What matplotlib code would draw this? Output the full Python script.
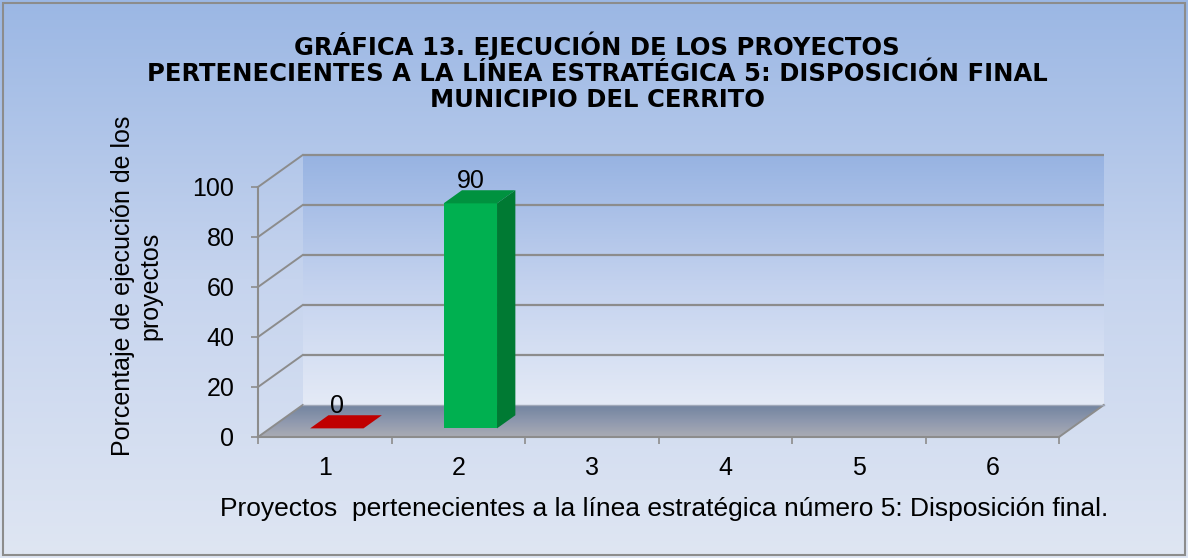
import numpy as np
import matplotlib
matplotlib.use("Agg")
import matplotlib.pyplot as plt
from matplotlib.patches import Polygon, Rectangle
from matplotlib.colors import LinearSegmentedColormap

plt.rcParams['font.family'] = ['Liberation Sans', 'DejaVu Sans']

# ---- data ----
categories = [1, 2, 3, 4, 5, 6]
values = [0, 90, None, None, None, None]
bar_front = {1: "#c00000", 2: "#00b050"}
bar_top = {1: "#c00000", 2: "#00923f"}
bar_side = {1: "#9a0000", 2: "#007a33"}
yticks = [0, 20, 40, 60, 80, 100]
title = ("GRÁFICA 13. EJECUCIÓN DE LOS PROYECTOS\n"
         "PERTENECIENTES A LA LÍNEA ESTRATÉGICA 5: DISPOSICIÓN FINAL\n"
         "MUNICIPIO DEL CERRITO")
xlabel = "Proyectos  pertenecientes a la línea estratégica número 5: Disposición final."
ylabel = "Porcentaje de ejecución de los\nproyectos"

W, H = 1188, 558
fig = plt.figure(figsize=(W / 100, H / 100), dpi=100)

# background gradient
bg = fig.add_axes([0, 0, 1, 1])
bg.set_xlim(0, 1); bg.set_ylim(0, 1); bg.axis('off')
bg_cmap = LinearSegmentedColormap.from_list("bg", ["#dfe6f3", "#c6d4ee", "#9bb7e4"])
grad = np.linspace(0, 1, 256).reshape(-1, 1)
bg.imshow(grad, extent=[0, 1, 0, 1], origin='lower', aspect='auto', cmap=bg_cmap, zorder=0)
bg.add_patch(Rectangle((3 / W, 3 / H), 1 - 6 / W, 1 - 6 / H, fill=False,
                       edgecolor="#8c8c8c", lw=1.5, zorder=1))

# main axes (front plane)
x0, x1 = 258, 1059
y0, y1 = 437, 187
ax = fig.add_axes([x0 / W, (H - y0) / H, (x1 - x0) / W, (y0 - y1) / H])
ax.set_xlim(0.5, 6.5)
ax.set_ylim(0, 100)
ax.patch.set_visible(False)

DX = 0.335   # depth offset in category units
DY = 12.8    # depth offset in value units
grid_c = "#8c8c8c"

# back wall
wall_cmap = LinearSegmentedColormap.from_list("wall", ["#e4eaf6", "#c2d1ee", "#97b3e2"])
ax.imshow(grad, extent=[0.5 + DX, 6.5 + DX, DY, 100 + DY], origin='lower',
          aspect='auto', cmap=wall_cmap, zorder=1, clip_on=False)
# floor
floor_poly = Polygon([(0.5, 0), (6.5, 0), (6.5 + DX, DY), (0.5 + DX, DY)], closed=True,
                     facecolor='none', edgecolor='none', transform=ax.transData)
ax.add_patch(floor_poly)
floor_cmap = LinearSegmentedColormap.from_list("floor", ["#aaacb4", "#8e98ae", "#72849f"])
fim = ax.imshow(grad, extent=[0.5, 6.5 + DX, 0, DY], origin='lower', aspect='auto',
                cmap=floor_cmap, zorder=2)
fim.set_clip_box(fig.bbox)
fim.set_clip_path(floor_poly)
ax.set_xlim(0.5, 6.5); ax.set_ylim(0, 100)

# gridlines: back wall and side wall
for v in yticks:
    if v > 0:
        ax.plot([0.5 + DX, 6.5 + DX], [v + DY, v + DY], color=grid_c, lw=1.6,
                zorder=3, clip_on=False, solid_capstyle='butt')
    ax.plot([0.5, 0.5 + DX], [v, v + DY], color=grid_c, lw=1.4, zorder=3, clip_on=False)
# floor right edge
ax.plot([6.5, 6.5 + DX], [0, DY], color=grid_c, lw=1.4, zorder=3, clip_on=False)
ax.plot([0.5 + DX, 6.5 + DX], [DY, DY], color="#a0a8b8", lw=1.0, zorder=3, clip_on=False)

# bars
bw = 0.4
f0, f1 = 0.27, 0.68
for c, v in zip(categories, values):
    if v is None:
        continue
    xl = c - bw / 2 + f0 * DX
    xr = xl + bw
    yb = f0 * DY
    ax.bar(xl, v, width=bw, bottom=yb, align='edge', color=bar_front[c],
           edgecolor='none', zorder=5, clip_on=False)
    ddx, ddy = (f1 - f0) * DX, (f1 - f0) * DY
    ax.add_patch(Polygon([(xl, yb + v), (xr, yb + v), (xr + ddx, yb + v + ddy),
                          (xl + ddx, yb + v + ddy)], closed=True,
                         facecolor=bar_top[c], edgecolor='none', zorder=6, clip_on=False))
    if v > 0:
        ax.add_patch(Polygon([(xr, yb), (xr + ddx, yb + ddy), (xr + ddx, yb + v + ddy),
                              (xr, yb + v)], closed=True,
                             facecolor=bar_side[c], edgecolor='none', zorder=6, clip_on=False))
    ax.text((xl + xr) / 2, yb + v + ddy - 1.2, f"{v}", ha='center', va='bottom',
            fontsize=18, color='black', zorder=7)

# spines & ticks
for s in ['top', 'right']:
    ax.spines[s].set_visible(False)
for s in ['left', 'bottom']:
    ax.spines[s].set_color(grid_c)
    ax.spines[s].set_linewidth(1.5)
    ax.spines[s].set_zorder(4)
ax.set_yticks(yticks)
ax.set_yticklabels([str(t) for t in yticks])
ax.tick_params(axis='y', length=5, width=1.2, color=grid_c, labelsize=18, pad=12)
ax.set_xticks([c - 0.5 for c in categories] + [categories[-1] + 0.5])
ax.set_xticklabels([])
ax.set_xticks(categories, minor=True)
ax.set_xticklabels([str(c) for c in categories], minor=True)
ax.tick_params(axis='x', which='major', length=5, width=1.2, color=grid_c)
ax.tick_params(axis='x', which='minor', length=0, labelsize=18, pad=14)

# texts
fig.text(597 / W, 1 - 72 / H, title, ha='center', va='center', fontsize=17.5,
         fontweight='bold', linespacing=1.1, family=['DejaVu Sans'])
fig.text(664 / W, 1 - 509 / H, xlabel, ha='center', va='center', fontsize=19)
fig.text(137 / W, 1 - 286 / H, ylabel, ha='center', va='center', fontsize=18,
         rotation=90, linespacing=1.2)

fig.savefig("out.png", dpi=100)
